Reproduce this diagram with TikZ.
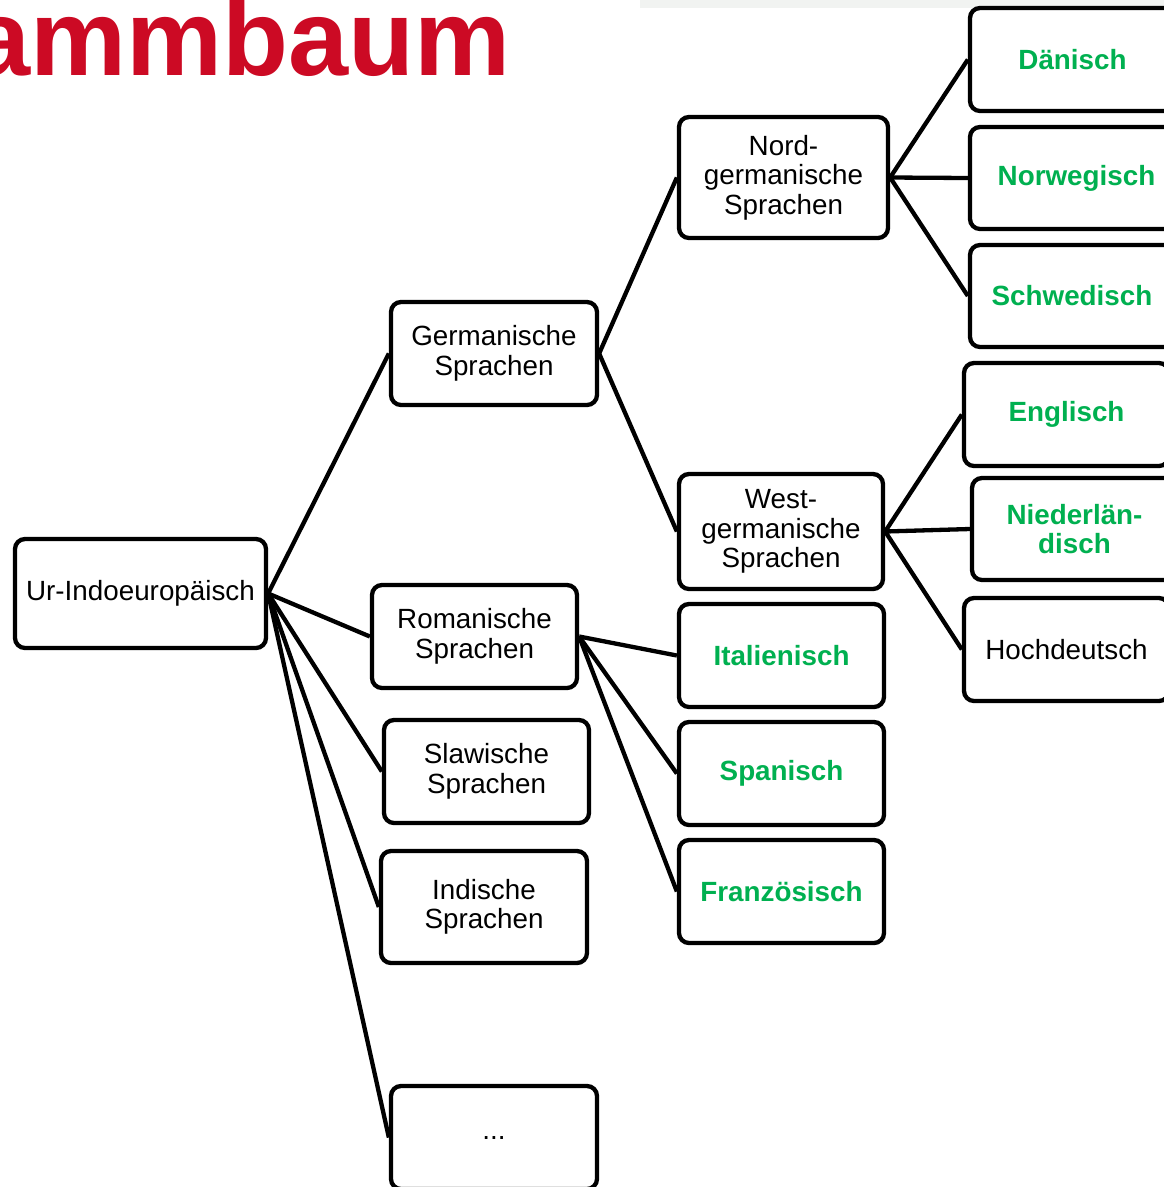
\documentclass[tikz,border=0pt]{standalone}
\usepackage{fontspec}
\setmainfont{Liberation Sans}
\definecolor{titlered}{HTML}{CC0A24}
\definecolor{langgreen}{HTML}{00B050}
\definecolor{wmark}{HTML}{F1F3F1}
\begin{document}
\begin{tikzpicture}[x=1pt,y=-1pt,
  box/.style={draw=black, line width=4.3pt, rounded corners=10pt, fill=white,
    align=center, inner sep=2pt, font=\fontsize{27.8}{29.5}\selectfont},
  leaf/.style={box, text=langgreen, font=\fontsize{27.8}{29.5}\selectfont\bfseries},
  link/.style={line width=4.3pt}]
\clip (0,0) rectangle (1164,1187);
\fill[white] (0,0) rectangle (1164,1187);
\fill[wmark] (640,0) rectangle (1164,7.5);
\node[anchor=base east, inner sep=0pt, text=titlered, font=\fontsize{108}{108}\selectfont\bfseries] (title) at (511,75) {ammbaum};

\node[box, minimum width=251pt, minimum height=109pt] (ur) at (140.5,593.5) {Ur-Indoeuropäisch};
\node[box, minimum width=206pt, minimum height=103pt] (germ) at (494,353.5) {Germanische\\Sprachen};
\node[box, minimum width=205pt, minimum height=103pt] (rom) at (474.5,636.5) {Romanische\\Sprachen};
\node[box, minimum width=205pt, minimum height=103pt] (slaw) at (486.5,771.5) {Slawische\\Sprachen};
\node[box, minimum width=206pt, minimum height=112pt] (ind) at (484,907) {Indische\\Sprachen};
\node[box, minimum width=206pt, minimum height=103pt] (dots) at (494,1137.5) {...};

\node[box, minimum width=209pt, minimum height=121pt] (nord) at (783.5,177.5) {Nord-\\germanische\\Sprachen};
\node[box, minimum width=204pt, minimum height=115pt] (west) at (781,531.5) {West-\\germanische\\Sprachen};
\node[leaf, minimum width=205pt, minimum height=103pt] (ital) at (781.5,655.5) {Italienisch};
\node[leaf, minimum width=205pt, minimum height=103pt] (span) at (781.5,773.5) {Spanisch};
\node[leaf, minimum width=205pt, minimum height=103pt] (franz) at (781.5,891.5) {Französisch};

\node[leaf, minimum width=205pt, minimum height=103pt] (daen) at (1072.5,59.5) {Dänisch};
\node[leaf, minimum width=213pt, minimum height=102pt] (norw) at (1076.5,178) {Norwegisch};
\node[leaf, minimum width=204pt, minimum height=102pt] (schw) at (1072,296) {Schwedisch};
\node[leaf, minimum width=205pt, minimum height=103pt] (engl) at (1066.5,414.5) {Englisch};
\node[leaf, minimum width=205pt, minimum height=102pt] (nied) at (1074.5,529) {Niederlän-\\disch};
\node[box, minimum width=205pt, minimum height=103pt] (hoch) at (1066.5,649.5) {Hochdeutsch};

\draw[link] (ur.east) -- (germ.west);
\draw[link] (ur.east) -- (rom.west);
\draw[link] (ur.east) -- (slaw.west);
\draw[link] (ur.east) -- (ind.west);
\draw[link] (ur.east) -- (dots.west);
\draw[link] (germ.east) -- (nord.west);
\draw[link] (germ.east) -- (west.west);
\draw[link] (nord.east) -- (daen.west);
\draw[link] (nord.east) -- (norw.west);
\draw[link] (nord.east) -- (schw.west);
\draw[link] (west.east) -- (engl.west);
\draw[link] (west.east) -- (nied.west);
\draw[link] (west.east) -- (hoch.west);
\draw[link] (rom.east) -- (ital.west);
\draw[link] (rom.east) -- (span.west);
\draw[link] (rom.east) -- (franz.west);
\end{tikzpicture}
\end{document}
